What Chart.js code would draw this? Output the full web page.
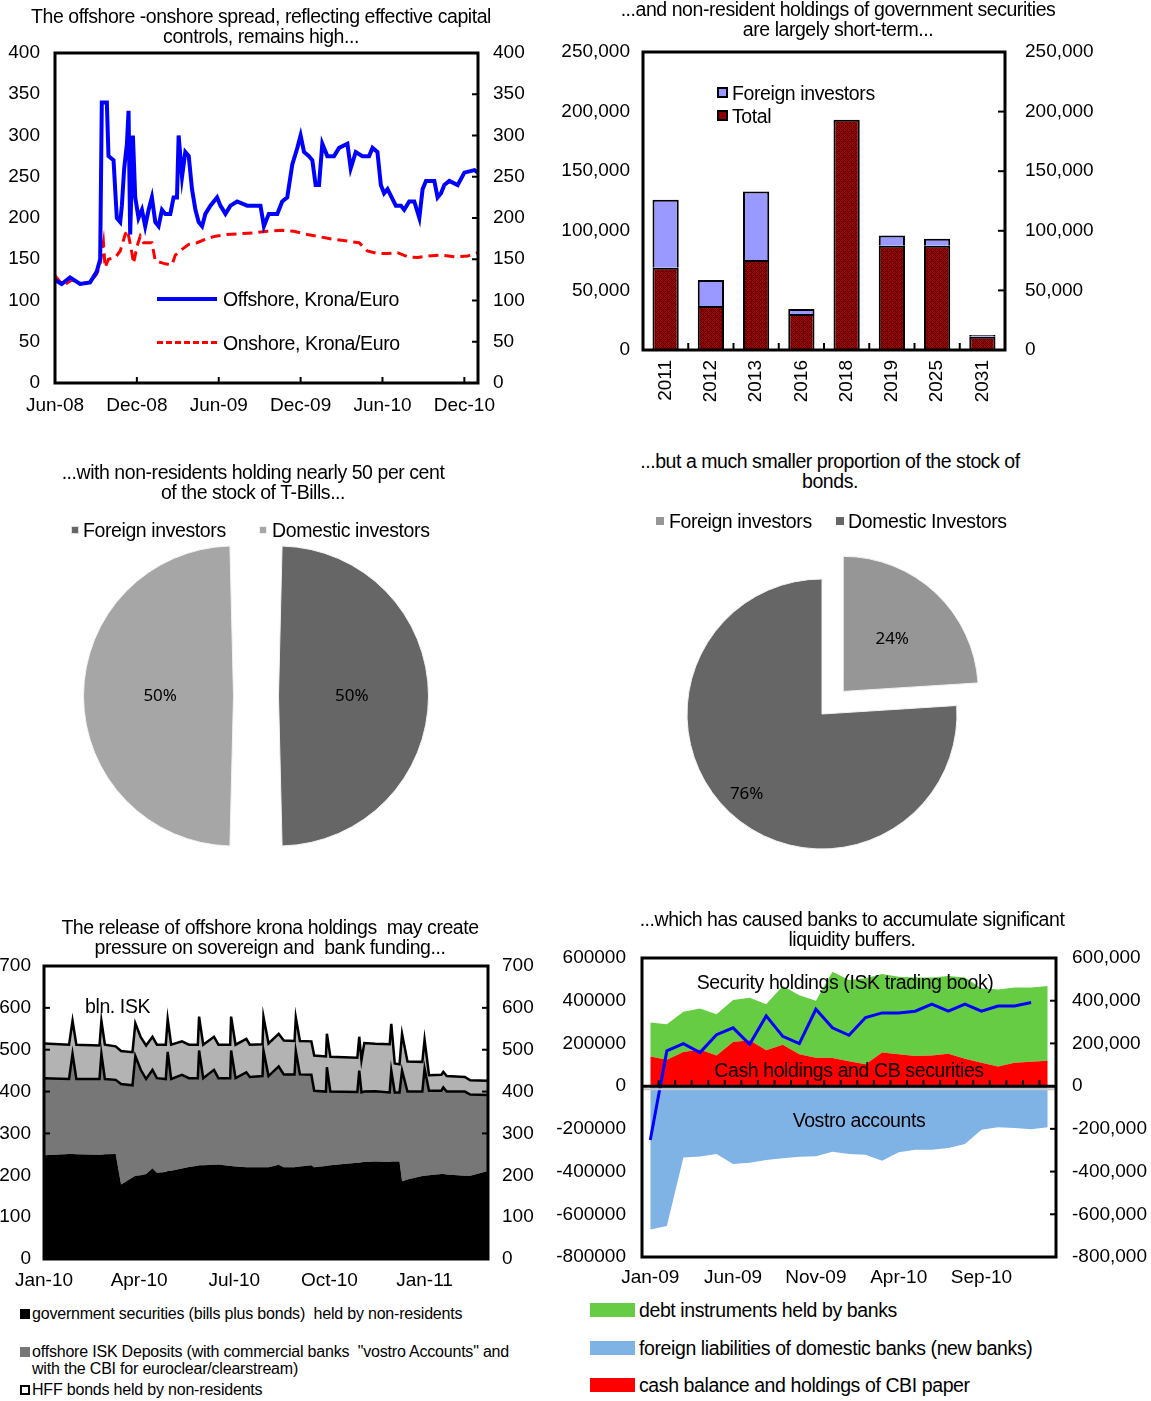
<!DOCTYPE html>
<html>
<head>
<meta charset="utf-8">
<title>Offshore krona charts</title>
<script src="https://cdn.jsdelivr.net/npm/chart.js@4.4.1/dist/chart.umd.min.js"></script>
<style>
  body { margin: 0; background: #fff; }
  #page { position: relative; width: 1151px; height: 1401px; overflow: hidden; font-family: "Liberation Sans", Arial, sans-serif; color: #000; }
  #page canvas { position: absolute; }
  .t { position: absolute; white-space: nowrap; z-index: 2; }
  .title { font-size: 19.5px; line-height: 20px; text-align: center; letter-spacing: -0.45px; }
  .lg { font-size: 19.5px; line-height: 20px; letter-spacing: -0.4px; }
  .pl { font-size: 19.5px; line-height: 20px; letter-spacing: -0.4px; }
  .sm { font-size: 16px; line-height: 17px; letter-spacing: -0.2px; }
  .sq { position: absolute; z-index: 2; box-sizing: border-box; }
</style>
</head>
<body>
<div id="page">
  <!-- titles -->
  <div class="t title" style="left:0;top:6px;width:522px">The offshore -onshore spread, reflecting effective capital<br>controls, remains high...</div>
  <div class="t title" style="left:578px;top:-1px;width:520px">...and non-resident holdings of government securities<br>are largely short-term...</div>
  <div class="t title" style="left:0;top:462px;width:506px">...with non-residents holding nearly 50 per cent<br>of the stock of T-Bills...</div>
  <div class="t title" style="left:580px;top:451px;width:500px">...but a much smaller proportion of the stock of<br>bonds.</div>
  <div class="t title" style="left:0;top:917px;width:540px">The release of offshore krona holdings &nbsp;may create<br>pressure on sovereign and &nbsp;bank funding...</div>
  <div class="t title" style="left:590px;top:909px;width:524px">...which has caused banks to accumulate significant<br>liquidity buffers.</div>

  <!-- spread legend -->
  <div class="sq" style="left:157px;top:297px;width:60px;height:4px;background:#0000FF"></div>
  <div class="t lg" style="left:223px;top:289px">Offshore, Krona/Euro</div>
  <div class="sq" style="left:157px;top:341px;width:60px;height:0;border-top:3px dashed #FF0000"></div>
  <div class="t lg" style="left:223px;top:333px">Onshore, Krona/Euro</div>

  <!-- maturity legend -->
  <div class="sq" style="left:717px;top:87px;width:11px;height:11px;background:#9999FF;border:2px solid #000"></div>
  <div class="t lg" style="left:732px;top:83px">Foreign investors</div>
  <div class="sq" style="left:717px;top:110px;width:11px;height:11px;background:#8B0000;border:2px solid #000"></div>
  <div class="t lg" style="left:732px;top:106px">Total</div>

  <!-- pie legends -->
  <div class="sq" style="left:71px;top:526px;width:8px;height:8px;background:#666666;border:1px solid #ddd"></div>
  <div class="t pl" style="left:83px;top:520px">Foreign investors</div>
  <div class="sq" style="left:259px;top:526px;width:8px;height:8px;background:#A6A6A6;border:1px solid #eee"></div>
  <div class="t pl" style="left:272px;top:520px">Domestic investors</div>
  <div class="sq" style="left:656px;top:517px;width:8px;height:8px;background:#969696"></div>
  <div class="t pl" style="left:669px;top:511px">Foreign investors</div>
  <div class="sq" style="left:836px;top:517px;width:8px;height:8px;background:#666666"></div>
  <div class="t pl" style="left:848px;top:511px">Domestic Investors</div>

  <!-- release chart notes -->
  <div class="t lg" style="left:85px;top:996px">bln. ISK</div>
  <div class="sq" style="left:20px;top:1309px;width:10px;height:10px;background:#000"></div>
  <div class="t sm" style="left:32px;top:1305px">government securities (bills plus bonds) &nbsp;held by non-residents</div>
  <div class="sq" style="left:20px;top:1347px;width:10px;height:10px;background:#777777"></div>
  <div class="t sm" style="left:32px;top:1343px">offshore ISK Deposits (with commercial banks &nbsp;"vostro Accounts" and<br>with the CBI for euroclear/clearstream)</div>
  <div class="sq" style="left:20px;top:1385px;width:10px;height:10px;background:#fff;border:2px solid #000"></div>
  <div class="t sm" style="left:32px;top:1381px">HFF bonds held by non-residents</div>

  <!-- bank chart notes -->
  <div class="t lg" style="left:645px;top:972px;width:400px;text-align:center">Security holdings (ISK trading book)</div>
  <div class="t lg" style="left:649px;top:1060px;width:400px;text-align:center">Cash holdings and CB securities</div>
  <div class="t lg" style="left:659px;top:1110px;width:400px;text-align:center">Vostro accounts</div>
  <div class="sq" style="left:590px;top:1303px;width:45px;height:14px;background:#66CC44"></div>
  <div class="t lg" style="left:639px;top:1300px">debt instruments held by banks</div>
  <div class="sq" style="left:590px;top:1341px;width:45px;height:14px;background:#7FB2E5"></div>
  <div class="t lg" style="left:639px;top:1338px">foreign liabilities of domestic banks (new banks)</div>
  <div class="sq" style="left:590px;top:1378px;width:45px;height:14px;background:#FF0000"></div>
  <div class="t lg" style="left:639px;top:1375px">cash balance and holdings of CBI paper</div>

  <canvas id="spread" width="538" height="380" style="left:0;top:43px"></canvas>
  <canvas id="maturity" width="550" height="370" style="left:560px;top:40px"></canvas>
  <canvas id="tbills" width="400" height="400" style="left:56px;top:496px"></canvas>
  <canvas id="bonds" width="400" height="400" style="left:622px;top:514px"></canvas>
  <canvas id="release" width="538" height="345" style="left:0;top:954px"></canvas>
  <canvas id="banks" width="601" height="351" style="left:550px;top:946px"></canvas>
</div>

<script>
// ---- offshore vs onshore krona (months since Jun-08) ----
const spreadTickMonths = [0, 6, 12, 18, 24, 30];
const spreadTickLabels = ['Jun-08', 'Dec-08', 'Jun-09', 'Dec-09', 'Jun-10', 'Dec-10'];
const offshoreMonths = [0, 0.49, 1.10, 1.84, 2.57, 3.06, 3.31, 3.43, 3.80, 3.92, 4.29, 4.53, 4.78, 4.90, 5.07,
  5.27, 5.39, 5.51, 5.71, 5.88, 6.12, 6.37, 6.61, 6.86, 7.10, 7.35, 7.59, 7.84, 8.08, 8.45, 8.69, 8.94, 9.06,
  9.31, 9.55, 9.80, 10.04, 10.29, 10.53, 10.78, 11.02, 11.39, 11.88, 12.12, 12.49, 12.86, 13.35, 14.08, 14.82,
  15.06, 15.31, 15.67, 16.29, 16.65, 17.02, 17.39, 17.76, 18.00, 18.25, 18.61, 18.86, 19.10, 19.35, 19.59,
  19.96, 20.45, 20.82, 21.43, 21.67, 22.04, 22.53, 23.02, 23.27, 23.63, 23.88, 24.12, 24.37, 24.98, 25.35,
  25.59, 25.96, 26.33, 26.70, 26.94, 27.19, 27.80, 28.04, 28.29, 28.53, 28.90, 29.51, 30.00, 30.74, 31.0];
const offshoreRate = [125, 120, 128, 120, 122, 135, 150, 340, 340, 275, 270, 200, 195, 215, 260,
  290, 330, 180, 300, 225, 200, 210, 190, 210, 225, 195, 190, 210, 205, 205, 225, 225, 300,
  250, 280, 275, 235, 210, 195, 190, 205, 215, 225, 215, 205, 215, 220, 215, 215,
  215, 190, 205, 205, 220, 225, 265, 285, 300, 280, 275, 270, 240, 240, 290,
  275, 275, 285, 290, 260, 280, 275, 275, 285, 280, 240, 230, 235, 215, 215,
  210, 220, 220, 200, 235, 245, 245, 225, 230, 240, 245, 240, 255, 258, 255];
const onshoreMonths = [0, 0.61, 1.22, 1.84, 2.57, 3.06, 3.31, 3.55, 3.67, 3.92, 4.41, 4.78, 5.14, 5.31, 5.56,
  5.76, 6.00, 6.25, 6.49, 7.10, 7.35, 7.96, 8.57, 8.82, 9.31, 9.80, 10.41, 11.14, 11.76, 12.61, 13.59, 14.57,
  15.55, 16.65, 17.51, 18.49, 19.47, 20.45, 21.43, 22.29, 22.90, 23.63, 24.37, 25.10, 25.84, 26.57, 27.31,
  28.29, 29.27, 30.25, 31.0];
const onshoreRate = [130, 118, 125, 120, 122, 132, 145, 170, 140, 150, 152, 160, 180, 185, 165,
  145, 165, 178, 170, 170, 148, 145, 143, 155, 162, 168, 170, 175, 178, 180, 181, 182,
  184, 185, 184, 180, 177, 174, 172, 170, 160, 157, 157, 158, 153, 152, 154,
  155, 153, 154, 158];

// ---- maturity profile ----
const maturityYears = ['2011', '2012', '2013', '2016', '2018', '2019', '2025', '2031'];
const maturityTotal = [69000, 37000, 75600, 30200, 193200, 87400, 87400, 11200];
const maturityForeign = [57000, 21800, 57400, 4200, 0, 8700, 5900, 1400];

// ---- pies ----
const tbillLabels = ['Foreign investors', 'Domestic investors'];
const tbillShares = [50, 50];
const bondLabels = ['Foreign investors', 'Domestic Investors'];
const bondShares = [24, 76];

// ---- offshore krona holdings (months since Jan-10) ----
const releaseTickMonths = [0, 3, 6, 9, 12];
const releaseTickLabels = ['Jan-10', 'Apr-10', 'Jul-10', 'Oct-10', 'Jan-11'];
const releaseMonths = [0, 0.79, 0.90, 1.02, 1.75, 1.81, 1.92, 2.26, 2.43, 2.79,
  2.88, 3.05, 3.22, 3.42, 3.56, 3.84, 3.90, 4.01, 4.35, 4.57,
  4.85, 4.89, 5.02, 5.36, 5.50, 5.87, 5.90, 6.04, 6.38, 6.49,
  6.89, 6.92, 7.08, 7.40, 7.56, 7.90, 7.94, 8.07, 8.43, 8.52,
  8.89, 8.92, 9.03, 9.88, 9.94, 10.01, 10.10, 10.44, 10.90, 10.95,
  11.06, 11.21, 11.29, 11.46, 11.93, 12.00, 12.14, 12.53, 12.59, 12.70,
  13.27, 13.44, 14.0];
const govSecurities = [248, 251, 251, 250, 249, 249, 250, 251, 178, 195,
  199, 200, 203, 217, 206, 208, 210, 211, 216, 220,
  223, 224, 224, 225, 226, 222, 222, 221, 219, 219,
  219, 219, 219, 225, 219, 219, 220, 221, 224, 219,
  222, 223, 224, 230, 230, 231, 232, 233, 232, 233,
  233, 233, 186, 190, 198, 199, 200, 203, 203, 202,
  199, 199, 210];
const offshoreDeposits = [184, 179, 239, 180, 181, 241, 180, 177, 240, 220,
  286, 252, 227, 235, 226, 222, 285, 219, 224, 212,
  209, 274, 208, 227, 206, 210, 276, 211, 227, 216,
  218, 279, 218, 235, 222, 222, 277, 220, 216, 183,
  178, 235, 176, 169, 220, 167, 168, 168, 166, 217,
  165, 165, 264, 210, 202, 256, 202, 199, 207, 198,
  201, 194, 182];
const hffBonds = [83, 82, 79, 82, 80, 79, 82, 80, 79, 79,
  78, 78, 80, 79, 80, 82, 78, 82, 80, 80,
  80, 81, 80, 79, 80, 80, 81, 80, 80, 77,
  76, 81, 78, 78, 81, 80, 80, 80, 80, 84,
  84, 80, 83, 82, 81, 77, 116, 113, 115, 112,
  69, 67, 88, 72, 71, 69, 37, 38, 37, 37,
  35, 34, 34];

// ---- bank liquidity ----
const bankMonths = ['Jan-09', 'Feb-09', 'Mar-09', 'Apr-09', 'May-09', 'Jun-09', 'Jul-09', 'Aug-09', 'Sep-09',
  'Oct-09', 'Nov-09', 'Dec-09', 'Jan-10', 'Feb-10', 'Mar-10', 'Apr-10', 'May-10', 'Jun-10', 'Jul-10',
  'Aug-10', 'Sep-10', 'Oct-10', 'Nov-10', 'Dec-10', 'Jan-11'];
const cashCbi = [139000, 124000, 160000, 171000, 144000, 207000, 215000, 168000, 194000, 149000, 133000, 132000,
  116000, 102000, 158000, 149000, 141000, 144000, 152000, 128000, 110000, 92000, 110000, 114000, 119000];
const debtInstruments = [159000, 166000, 188000, 193000, 193000, 196000, 199000, 216000, 275000, 277000, 267000,
  404000, 381000, 403000, 367000, 363000, 368000, 365000, 364000, 381000, 348000, 361000, 352000, 348000, 350000];
const vostroAccounts = [-671000, -655000, -334000, -329000, -318000, -365000, -359000, -346000, -338000, -331000,
  -328000, -307000, -318000, -321000, -349000, -310000, -298000, -298000, -290000, -271000, -204000, -193000,
  -196000, -202000, -193000];
const netPosition = [-252000, 165000, 199000, 157000, 241000, 273000, 196000, 329000, 233000, 199000, 360000,
  273000, 238000, 321000, 343000, 343000, 351000, 384000, 351000, 384000, 351000, 375000, 375000, 392000, null];

Chart.defaults.font.family = '"Liberation Sans", Arial, sans-serif';
Chart.defaults.font.size = 19;
Chart.defaults.color = '#000';

function line(ctx, x1, y1, x2, y2) {
  ctx.beginPath(); ctx.moveTo(x1, y1); ctx.lineTo(x2, y2); ctx.stroke();
}

// thick box around the plot, inner tick marks, optional zero line
const framePlugin = {
  id: 'frame',
  afterDatasetsDraw(chart, args, o) {
    if (!o || !o.on) return;
    const ctx = chart.ctx, a = chart.chartArea, ys = chart.scales.y, xs = chart.scales.x;
    ctx.save();
    ctx.strokeStyle = '#000';
    ctx.lineWidth = 2;
    ys.ticks.forEach(t => {
      const py = ys.getPixelForValue(t.value);
      if (o.left) line(ctx, a.left, py, a.left + o.left, py);
      if (o.right) line(ctx, a.right - o.right, py, a.right, py);
    });
    if (o.zero) {
      const y0 = ys.getPixelForValue(0);
      ctx.strokeStyle = '#C8C8C8';
      line(ctx, a.left, y0 + 3, a.right, y0 + 3);
      ctx.strokeStyle = '#000';
      ctx.lineWidth = 3;
      line(ctx, a.left, y0, a.right, y0);
      ctx.lineWidth = 2;
    }
    if (o.xTicks) {
      const base = o.zero ? ys.getPixelForValue(0) : a.bottom;
      let px = [];
      if (o.xTicks === 'bounds') {
        for (let i = 1; i < xs.ticks.length; i++) px.push((xs.getPixelForValue(i - 1) + xs.getPixelForValue(i)) / 2);
      } else {
        px = xs.ticks.map(t => xs.getPixelForValue(t.value));
      }
      px.forEach(x => line(ctx, x, base, x, base - o.xLen));
    }
    ctx.lineWidth = o.width || 3;
    ctx.strokeRect(a.left, a.top, a.width, a.height);
    ctx.restore();
  }
};

// percentage labels inside pie slices
const pieLabelPlugin = {
  id: 'pieLabels',
  afterDatasetsDraw(chart, args, o) {
    if (!o || !o.on) return;
    const ctx = chart.ctx;
    const ds = chart.data.datasets[0];
    const total = ds.data.reduce((s, v) => s + v, 0);
    ctx.save();
    ctx.font = '17px "Noto Sans", "Liberation Sans", sans-serif';
    ctx.fillStyle = '#000';
    ctx.textAlign = 'center';
    ctx.textBaseline = 'middle';
    chart.getDatasetMeta(0).data.forEach((arc, i) => {
      const mid = (arc.startAngle + arc.endAngle) / 2;
      const r = (arc.options.offset || 0) / 4 + arc.outerRadius * o.r[i];
      ctx.fillText(Math.round(ds.data[i] / total * 100) + '%', arc.x + Math.cos(mid) * r, arc.y + Math.sin(mid) * r);
    });
    ctx.restore();
  }
};

Chart.register(framePlugin, pieLabelPlugin);

const common = {
  responsive: false,
  animation: false,
  devicePixelRatio: 1,
  events: []
};
const noGrid = { display: false, drawTicks: false };
const noBorder = { display: false };

function pts(xs, ys) {
  return xs.map((x, i) => ({ x: x, y: ys[i] }));
}

// fixed-width value axis; label padding is kept out of the layout
function yAxis(pos, min, max, step, width, pad, fmt) {
  return {
    position: pos, min: min, max: max,
    grid: noGrid, border: noBorder,
    ticks: { stepSize: step, padding: pad, callback: fmt },
    afterFit: s => { s.width = width; s.paddingTop = 0; s.paddingBottom = 0; }
  };
}
const plain = v => String(v);
const commas = v => v.toLocaleString('en-US');

// Offshore / onshore spread
new Chart(document.getElementById('spread'), {
  type: 'line',
  data: {
    datasets: [
      { label: 'Offshore, Krona/Euro', data: pts(offshoreMonths, offshoreRate), borderColor: '#0000FF', borderWidth: 4, pointRadius: 0, tension: 0 },
      { label: 'Onshore, Krona/Euro', data: pts(onshoreMonths, onshoreRate), borderColor: '#FF0000', borderWidth: 3, borderDash: [10, 6], pointRadius: 0, tension: 0 }
    ]
  },
  options: {
    ...common,
    layout: { padding: { top: 10, left: 0, right: 0, bottom: 0 } },
    plugins: { legend: { display: false }, tooltip: { enabled: false }, frame: { on: true, right: 6, xTicks: 'values', xLen: 6 } },
    scales: {
      x: {
        type: 'linear', min: 0, max: 31, grid: noGrid, border: noBorder,
        afterBuildTicks: s => { s.ticks = spreadTickMonths.map(v => ({ value: v })); },
        ticks: { padding: 11, maxRotation: 0, callback: v => spreadTickLabels[spreadTickMonths.indexOf(v)] || '' },
        afterFit: s => { s.height = 40; }
      },
      y: yAxis('left', 0, 400, 50, 55, 15, plain),
      y2: yAxis('right', 0, 400, 50, 60, 15, plain)
    }
  }
});

// Maturity bars
function hatch() {
  const p = document.createElement('canvas');
  p.width = 4; p.height = 4;
  const c = p.getContext('2d');
  c.fillStyle = '#A00000';
  c.fillRect(0, 0, 4, 4);
  c.fillStyle = '#4A0000';
  c.fillRect(0, 0, 1, 1); c.fillRect(1, 1, 1, 1); c.fillRect(2, 2, 1, 1); c.fillRect(3, 3, 1, 1);
  c.fillRect(3, 1, 1, 1); c.fillRect(1, 3, 1, 1);
  return c.createPattern(p, 'repeat');
}

new Chart(document.getElementById('maturity'), {
  type: 'bar',
  data: {
    labels: maturityYears,
    datasets: [
      { label: 'Total', data: maturityTotal, backgroundColor: hatch(), borderColor: '#000', borderWidth: 2, barPercentage: 0.58, categoryPercentage: 1 },
      { label: 'Foreign investors', data: maturityForeign, backgroundColor: '#9999FF', borderColor: '#000', borderWidth: 2, barPercentage: 0.58, categoryPercentage: 1 }
    ]
  },
  options: {
    ...common,
    layout: { padding: { top: 12, left: 0, right: 0, bottom: 0 } },
    plugins: { legend: { display: false }, tooltip: { enabled: false }, frame: { on: true, right: 7, xTicks: 'bounds', xLen: 7 } },
    scales: {
      x: {
        stacked: true, grid: noGrid, border: noBorder,
        ticks: { padding: 10, minRotation: 90, maxRotation: 90, autoSkip: false },
        afterFit: s => { s.height = 60; }
      },
      y: { ...yAxis('left', 0, 250000, 50000, 83, 13, commas), stacked: true },
      y2: yAxis('right', 0, 250000, 50000, 105, 20, commas)
    }
  }
});

// T-bill pie
new Chart(document.getElementById('tbills'), {
  type: 'pie',
  data: {
    labels: tbillLabels,
    datasets: [{ data: tbillShares, backgroundColor: ['#666666', '#A6A6A6'], borderColor: '#F2F2F2', borderWidth: 1, offset: [90, 90] }]
  },
  options: {
    ...common,
    radius: 127.5,
    plugins: { legend: { display: false }, tooltip: { enabled: false }, pieLabels: { on: true, r: [0.575, 0.575] } }
  }
});

// Bond pie
new Chart(document.getElementById('bonds'), {
  type: 'pie',
  data: {
    labels: bondLabels,
    datasets: [{ data: bondShares, backgroundColor: ['#969696', '#666666'], borderColor: '#F2F2F2', borderWidth: 1, offset: [124, 0] }]
  },
  options: {
    ...common,
    radius: 135,
    plugins: { legend: { display: false }, tooltip: { enabled: false }, pieLabels: { on: true, r: [0.53, 0.815] } }
  }
});

// Offshore krona holdings, stacked
new Chart(document.getElementById('release'), {
  type: 'line',
  data: {
    datasets: [
      { label: 'government securities (bills plus bonds) held by non-residents', data: pts(releaseMonths, govSecurities), fill: 'origin', backgroundColor: '#000000', borderColor: '#000000', borderWidth: 0, pointRadius: 0, tension: 0 },
      { label: 'offshore ISK Deposits', data: pts(releaseMonths, offshoreDeposits), fill: '-1', backgroundColor: '#777777', borderColor: '#000000', borderWidth: 2.5, pointRadius: 0, tension: 0 },
      { label: 'HFF bonds held by non-residents', data: pts(releaseMonths, hffBonds), fill: '-1', backgroundColor: '#B3B3B3', borderColor: '#000000', borderWidth: 2.5, pointRadius: 0, tension: 0 }
    ]
  },
  options: {
    ...common,
    layout: { padding: { top: 12, left: 0, right: 0, bottom: 0 } },
    plugins: { legend: { display: false }, tooltip: { enabled: false }, filler: { propagate: false }, frame: { on: true, left: 6, right: 6 } },
    scales: {
      x: {
        type: 'linear', min: 0, max: 14, grid: noGrid, border: noBorder,
        afterBuildTicks: s => { s.ticks = releaseTickMonths.map(v => ({ value: v })); },
        ticks: { padding: 10, maxRotation: 0, callback: v => releaseTickLabels[releaseTickMonths.indexOf(v)] || '' },
        afterFit: s => { s.height = 40; }
      },
      y: { ...yAxis('left', 0, 700, 100, 44, 13, plain), stacked: true },
      y2: yAxis('right', 0, 700, 100, 50, 14, plain)
    }
  }
});

// Bank liquidity buffers
new Chart(document.getElementById('banks'), {
  type: 'line',
  data: {
    labels: bankMonths,
    datasets: [
      { label: 'cash balance and holdings of CBI paper', data: cashCbi, fill: 'origin', backgroundColor: '#FF0000', borderWidth: 0, pointRadius: 0, tension: 0, stack: 'a' },
      { label: 'debt instruments held by banks', data: debtInstruments, fill: '-1', backgroundColor: '#66CC44', borderWidth: 0, pointRadius: 0, tension: 0, stack: 'a' },
      { label: 'foreign liabilities of domestic banks (new banks)', data: vostroAccounts, fill: 'origin', backgroundColor: '#7FB2E5', borderWidth: 0, pointRadius: 0, tension: 0, stack: 'a' },
      { label: 'net', data: netPosition, fill: false, borderColor: '#0000FF', borderWidth: 3, pointRadius: 0, tension: 0, stack: 'net', order: -1 }
    ]
  },
  options: {
    ...common,
    layout: { padding: { top: 12, left: 0, right: 0, bottom: 0 } },
    plugins: { legend: { display: false }, tooltip: { enabled: false }, frame: { on: true, right: 6, zero: true, xTicks: 'bounds', xLen: 6 } },
    scales: {
      x: {
        type: 'category', offset: true, grid: noGrid, border: noBorder,
        ticks: { padding: 9, maxRotation: 0, autoSkip: false, callback: (v, i) => (i % 5 === 0 ? bankMonths[i] : '') },
        afterFit: s => { s.height = 40; }
      },
      y: { ...yAxis('left', -800000, 600000, 200000, 92, 16, plain), stacked: true },
      y2: yAxis('right', -800000, 600000, 200000, 95, 16, commas)
    }
  }
});
</script>
</body>
</html>
